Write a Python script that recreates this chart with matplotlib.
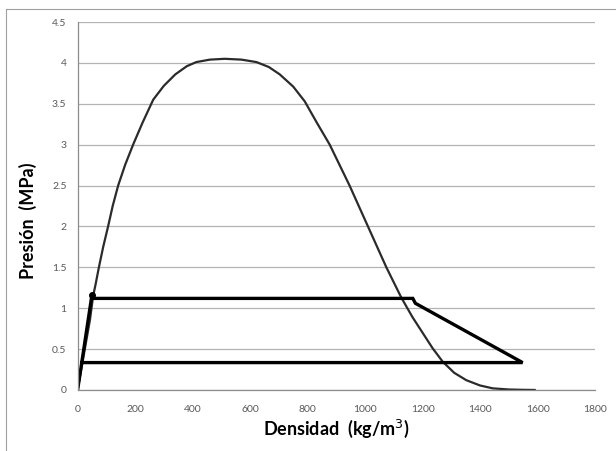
import numpy as np
import matplotlib.pyplot as plt
from matplotlib.lines import Line2D

# bell-shaped envelope (density kg/m3, pressure MPa)
env_rho = [0, 43, 54, 63, 74, 89, 106, 122, 141, 165, 193, 226, 263, 300, 340, 380, 413,
           460, 512, 570, 622, 665, 703, 750, 790, 832, 877, 946, 1010, 1074, 1126,
           1165, 1200, 1235, 1270, 1310, 1352, 1400, 1444, 1500, 1550, 1590]
env_p = [0, 0.86, 1.15, 1.3, 1.5, 1.75, 2.0, 2.25, 2.5, 2.75, 3.0, 3.27, 3.55, 3.72, 3.86, 3.96, 4.01,
         4.04, 4.05, 4.04, 4.01, 3.95, 3.86, 3.71, 3.53, 3.27, 3.0, 2.5, 2.0, 1.5, 1.13,
         0.89, 0.7, 0.51, 0.346, 0.21, 0.12, 0.055, 0.02, 0.006, 0.002, 0.0]

# thick cycle path
cyc_rho = [0, 48, 1166, 1175, 1548, 14]
cyc_p = [0, 1.12, 1.12, 1.06, 0.335, 0.335]

yticks = [0, 0.5, 1, 1.5, 2, 2.5, 3, 3.5, 4, 4.5]
xticks = [0, 200, 400, 600, 800, 1000, 1200, 1400, 1600, 1800]

plt.rcParams['font.family'] = ['Lato', 'DejaVu Sans']

fig = plt.figure(figsize=(6.16, 4.51), dpi=100)
ax = fig.add_axes([0.126, 0.1353, 0.84, 0.8159])

ax.plot(env_rho, env_p, color='#2b2b2b', lw=1.6, solid_joinstyle='round')
ax.plot(cyc_rho, cyc_p, color='black', lw=2.4, solid_joinstyle='miter')
ax.plot([50], [1.16], 'o', color='black', ms=4)

ax.set_xlim(0, 1800)
ax.set_ylim(0, 4.5)
ax.set_xticks(xticks)
ax.set_yticks(yticks)
ax.set_yticklabels([f'{v:g}' for v in yticks])
ax.tick_params(length=0, labelsize=7.5, colors='#595959', pad=8)
ax.tick_params(axis='x', pad=11)

ax.grid(axis='y', color='#b3b3b3', lw=0.9)
ax.set_axisbelow(True)
for s in ['top', 'right']:
    ax.spines[s].set_visible(False)
for s in ['left', 'bottom']:
    ax.spines[s].set_color('#8c8c8c')
    ax.spines[s].set_linewidth(0.9)

ax.set_xlabel('Densidad  (kg/m$^3$)', fontsize=13, fontweight='bold')
ax.set_ylabel('Presión  (MPa)', fontsize=13, fontweight='bold')
ax.xaxis.set_label_coords(0.5, -0.075)
ax.yaxis.set_label_coords(-0.079, 0.46)

# outer frame (left and top edges visible in the picture)
fig.add_artist(Line2D([6 / 616, 6 / 616], [0, 1 - 9 / 451], color='#a0a0a0', lw=0.8))
fig.add_artist(Line2D([6 / 616, 1], [1 - 9 / 451, 1 - 9 / 451], color='#a0a0a0', lw=0.8))

fig.savefig('out.png', dpi=100)
